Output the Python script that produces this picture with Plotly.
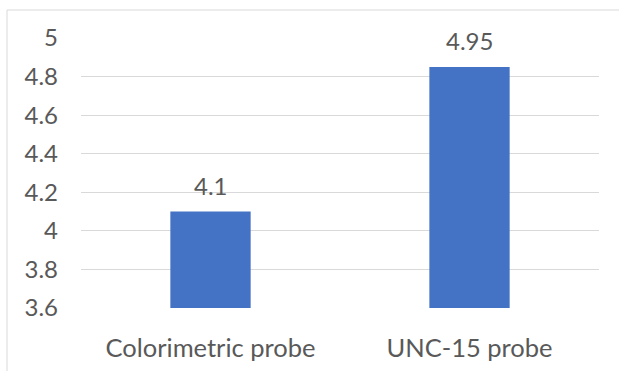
import plotly.graph_objects as go

categories = ["Colorimetric probe", "UNC-15 probe"]
values = [4.1, 4.85]
value_labels = ["4.1", "4.95"]
y_ticks = [3.6, 3.8, 4.0, 4.2, 4.4, 4.6, 4.8, 5.0]
y_tick_text = ["3.6", "3.8", "4", "4.2", "4.4", "4.6", "4.8", "5"]

FONT = "Lato"
GRAY = "#595959"

fig = go.Figure()
fig.add_trace(go.Bar(x=categories, y=values, marker=dict(color="#4472C4", line=dict(width=0)),
                     hoverinfo="skip"))

for c, v, t in zip(categories, values, value_labels):
    fig.add_annotation(x=c, y=v, text=t, showarrow=False, yanchor="bottom",
                       yshift=10, font=dict(family=FONT, size=24, color=GRAY))

L, R, T, B = 81, 20, 38, 63
W, H = 619, 371
pw, ph = W - L - R, H - T - B
fig.add_shape(type="rect", xref="paper", yref="paper",
              x0=(7 - L) / pw, x1=(W + 5 - L) / pw,
              y0=-(H + 5 - (T + ph)) / ph, y1=(T + ph - 10) / ph,
              line=dict(color="#d9d9d9", width=1), fillcolor="rgba(0,0,0,0)", layer="below")

fig.update_layout(
    width=W, height=H,
    margin=dict(l=L, r=R, t=T, b=B, autoexpand=False),
    paper_bgcolor="white", plot_bgcolor="white",
    bargap=0.69, showlegend=False,
    font=dict(family=FONT, size=24, color=GRAY),
    xaxis=dict(showgrid=False, showline=False, ticks="", ticklabelstandoff=22,
               tickfont=dict(family=FONT, size=25.5, color=GRAY)),
    yaxis=dict(range=[3.6, 5.0], tickvals=y_ticks, ticktext=y_tick_text,
               showgrid=True, gridcolor="#d9d9d9", gridwidth=1, zeroline=False,
               showline=False, ticks="", ticklabelstandoff=22,
               tickfont=dict(family=FONT, size=24, color=GRAY)),
)

fig.write_html("out.html", config={"displayModeBar": False},
               post_script="document.body.style.margin='0';document.body.style.overflow='hidden';")
